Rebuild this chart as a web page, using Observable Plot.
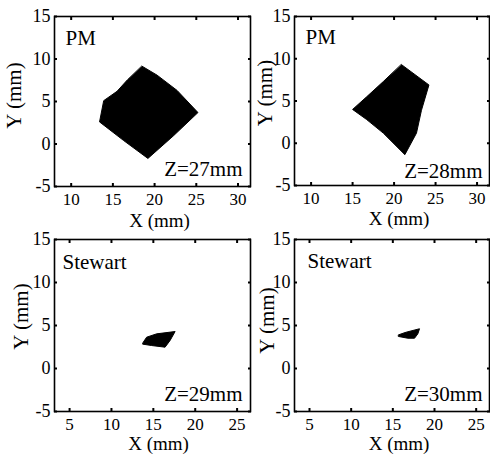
<!DOCTYPE html>
<html>
<head>
<meta charset="utf-8">
<script src="https://cdn.jsdelivr.net/npm/d3@7"></script>
<script src="https://cdn.jsdelivr.net/npm/@observablehq/plot@0.6"></script>
<style>
  html, body { margin: 0; padding: 0; background: white; }
  #chart { position: relative; width: 490px; height: 460px; overflow: hidden; background: white; }
</style>
</head>
<body>
<div id="chart"></div>
<script>
// ---- data ----
const yTicks = [-5, 0, 5, 10, 15];
const xTicksPM = [10, 15, 20, 25, 30];
const xTicksStewart = [5, 10, 15, 20, 25];

const panelNames = ["PM", "PM", "Stewart", "Stewart"];
const panelZ = ["Z=27mm", "Z=28mm", "Z=29mm", "Z=30mm"];

// workspace cross-section outlines (mm)
const pm27X = [18.5, 20.3, 22.7, 25.2, 22.3, 19.2, 16.3, 13.4, 13.9, 15.5, 16.7];
const pm27Y = [9.15, 8.1, 6.3, 3.7, 1.0, -1.7, 0.4, 2.6, 5.1, 6.2, 7.5];

const pm28X = [20.9, 24.2, 23.3, 22.7, 21.3, 18.7, 16.7, 15.0, 16.7, 18.7];
const pm28Y = [9.3, 6.9, 3.9, 1.2, -1.35, 1.2, 2.8, 4.0, 5.5, 7.3];

const st29X = [13.8, 14.2, 15.4, 17.6, 17.0, 16.4, 14.8, 13.75];
const st29Y = [3.06, 3.64, 4.03, 4.3, 3.26, 2.48, 2.67, 2.83];

const st30X = [15.7, 16.6, 18.2, 18.0, 17.6, 16.8, 15.7];
const st30Y = [3.92, 4.22, 4.62, 4.03, 3.52, 3.52, 3.72];

// ---- layout ----
const FONT = "'Liberation Serif', 'Times New Roman', serif";
const chart = document.getElementById("chart");

const panels = [
  {xs: pm27X, ys: pm27Y, xDomain: [8, 31.5], xTicks: xTicksPM, name: panelNames[0], z: panelZ[0],
   left: 0, top: 0, width: 260, height: 230, mL: 54, mR: 10, mT: 16, mB: 44,
   nameDx: 11, nameDy: 28, zDx: -8, zDy: -11, xlDx: 7, xlDy: 40, ylDx: -34, ylDy: -6, tickPad: 9},
  {xs: pm28X, ys: pm28Y, xDomain: [8, 31.5], xTicks: xTicksPM, name: panelNames[1], z: panelZ[1],
   left: 240, top: 0, width: 250, height: 230, mL: 54, mR: 1, mT: 16, mB: 45,
   nameDx: 11, nameDy: 27, zDx: -7, zDy: -8, xlDx: 7, xlDy: 39, ylDx: -23, ylDy: -8, tickPad: 9},
  {xs: st29X, ys: st29Y, xDomain: [3.2, 26.6], xTicks: xTicksStewart, name: panelNames[2], z: panelZ[2],
   left: 0, top: 225, width: 260, height: 235, mL: 54, mR: 10, mT: 14, mB: 49,
   nameDx: 8, nameDy: 29, zDx: -8, zDy: -11, xlDx: 6, xlDy: 38, ylDx: -27, ylDy: -9, tickPad: 9},
  {xs: st30X, ys: st30Y, xDomain: [3.2, 26.6], xTicks: xTicksStewart, name: panelNames[3], z: panelZ[3],
   left: 240, top: 225, width: 250, height: 235, mL: 54, mR: 1, mT: 14, mB: 49,
   nameDx: 13, nameDy: 28, zDx: -7, zDy: -11, xlDx: 7, xlDy: 38, ylDx: -21, ylDy: -5, tickPad: 9}
];

for (const p of panels) {
  const shape = p.xs.map((x, i) => ({x, y: p.ys[i]}));
  const svg = Plot.plot({
    width: p.width,
    height: p.height,
    marginLeft: p.mL,
    marginRight: p.mR,
    marginTop: p.mT,
    marginBottom: p.mB,
    style: {
      position: "absolute",
      left: p.left + "px",
      top: p.top + "px",
      background: "transparent",
      overflow: "visible",
      maxWidth: "none",
      fontFamily: FONT,
      fontSize: "18px",
      color: "black"
    },
    x: {domain: p.xDomain, label: null},
    y: {domain: [-5, 15], label: null},
    marks: [
      Plot.line(shape, {x: "x", y: "y", curve: "linear-closed", fill: "black", stroke: "black", strokeWidth: 1}),
      Plot.frame({stroke: "black", strokeWidth: 1.6}),
      Plot.axisX({ticks: p.xTicks, tickSize: -3, tickPadding: p.tickPad, strokeWidth: 2,
                  tickFormat: d => String(d), fontSize: 17, fill: "black", label: null}),
      Plot.axisX({anchor: "top", ticks: p.xTicks, tickSize: -3, strokeWidth: 2, tickFormat: () => "", label: null}),
      Plot.axisY({ticks: yTicks, tickSize: -3, tickPadding: 7, strokeWidth: 2,
                  tickFormat: d => String(d), fontSize: 18, fill: "black", label: null}),
      Plot.axisY({anchor: "right", ticks: yTicks, tickSize: -3, strokeWidth: 2, tickFormat: () => "", label: null}),
      Plot.text([p.name], {frameAnchor: "top-left", text: d => d, textAnchor: "start", lineAnchor: "bottom",
                           dx: p.nameDx, dy: p.nameDy, fontSize: 21, fill: "black"}),
      Plot.text([p.z], {frameAnchor: "bottom-right", text: d => d, textAnchor: "end", lineAnchor: "bottom",
                        dx: p.zDx, dy: p.zDy, fontSize: 21, fill: "black"}),
      Plot.text(["X (mm)"], {frameAnchor: "bottom", text: d => d, textAnchor: "middle", lineAnchor: "bottom",
                             dx: p.xlDx, dy: p.xlDy, fontSize: 19, fill: "black"}),
      Plot.text(["Y (mm)"], {frameAnchor: "left", text: d => d, textAnchor: "middle", lineAnchor: "bottom",
                             rotate: -90, dx: p.ylDx, dy: p.ylDy, fontSize: 21, fill: "black"})
    ]
  });
  chart.appendChild(svg);
}
</script>
</body>
</html>
